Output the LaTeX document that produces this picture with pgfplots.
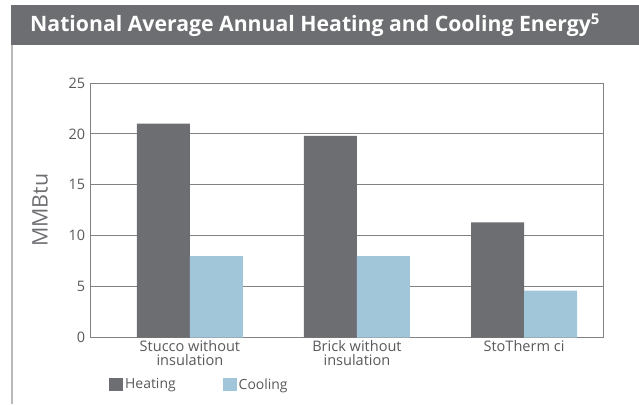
\documentclass[border=0pt]{standalone}
\usepackage{fontspec}
\setmainfont{Open Sans}
\usepackage{pgfplots}
\pgfplotsset{compat=1.18}
\definecolor{heat}{RGB}{109,110,113}
\definecolor{cool}{RGB}{162,198,217}
\definecolor{txt}{RGB}{88,89,91}
\definecolor{gridc}{RGB}{130,130,132}
\begin{document}
\begin{tikzpicture}[x=1bp,y=1bp]
\path[use as bounding box] (0,0) rectangle (639,404);
\fill[heat] (11,359) rectangle (639,399);
\node[anchor=west, text=white, font=\fontsize{21.3}{24}\selectfont\bfseries, inner sep=0] at (30,379) {National Average Annual Heating and Cooling Energy\textsuperscript{5}};
\draw[gray!55, line width=1.2bp] (12,0) -- (12,359);
\begin{axis}[
  at={(90.7bp,66.5bp)}, anchor=south west,
  scale only axis, width=512.3bp, height=254.5bp,
  xmin=-0.594, xmax=2.473, ymin=0, ymax=25,
  ytick={0,5,...,25},
  xtick={0,1,2},
  xticklabels={Stucco without\\insulation, Brick without\\insulation, StoTherm ci},
  xticklabel style={align=center, text=txt, font=\fontsize{14.6}{14.8}\selectfont, yshift=1bp},
  yticklabel style={text=txt, font=\fontsize{14.5}{16}\selectfont, xshift=-2bp},
  /pgf/number format/assume math mode=true,
  major tick length=0pt,
  ymajorgrids,
  grid style={gridc, line width=0.9bp},
  axis line style={gridc, line width=0.9bp},
  ylabel={MMBtu},
  ylabel style={at={(axis description cs:-0.099,0.5)}, anchor=center, text=heat, font=\fontsize{21.5}{24}\selectfont},
  legend columns=2,
  legend style={at={(axis description cs:0.0357,-0.1847)}, anchor=west, draw=none, fill=none,
    font=\fontsize{14}{16}\selectfont, text=txt, inner sep=0pt,
    cells={anchor=west},
    /tikz/every even column/.append style={column sep=45bp}},
  legend image code/.code={\fill[#1] (0bp,-6.5bp) rectangle (14bp,6.5bp);},
]
\addplot[ybar, bar width=53bp, bar shift=-26.5bp, fill=heat, draw=none] coordinates {(0,21.0) (1,19.8) (2,11.3)};
\addlegendentry{Heating}
\addplot[ybar, bar width=53bp, bar shift=26.5bp, fill=cool, draw=none] coordinates {(0,8.0) (1,8.0) (2,4.6)};
\addlegendentry{Cooling}
\end{axis}
\end{tikzpicture}
\end{document}
